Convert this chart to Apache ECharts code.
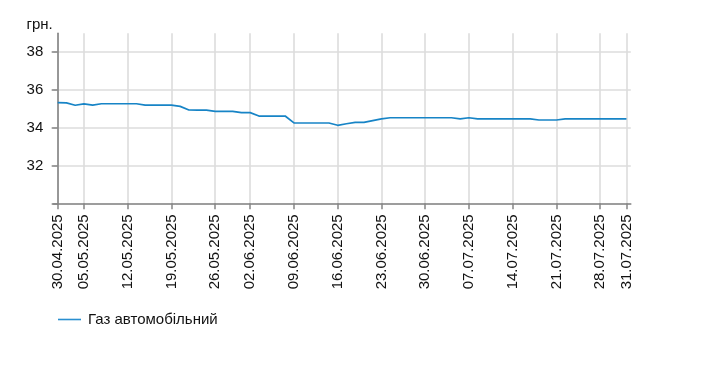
<!DOCTYPE html>
<html>
<head>
<meta charset="utf-8">
<script src="https://cdn.jsdelivr.net/npm/echarts@6/dist/echarts.min.js"></script>
<style>html,body{margin:0;padding:0;background:#fff}#c{width:709px;height:369px}</style>
</head>
<body>
<div id="c"></div>
<script>
const dates = [
  '30.04.2025','01.05.2025','02.05.2025',
  '05.05.2025','06.05.2025','07.05.2025','08.05.2025','09.05.2025',
  '12.05.2025','13.05.2025','14.05.2025','15.05.2025','16.05.2025',
  '19.05.2025','20.05.2025','21.05.2025','22.05.2025','23.05.2025',
  '26.05.2025','27.05.2025','28.05.2025','30.05.2025',
  '02.06.2025','03.06.2025','04.06.2025','05.06.2025','06.06.2025',
  '09.06.2025','10.06.2025','11.06.2025','12.06.2025','13.06.2025',
  '16.06.2025','17.06.2025','18.06.2025','19.06.2025','20.06.2025',
  '23.06.2025','24.06.2025','25.06.2025','26.06.2025','27.06.2025',
  '30.06.2025','01.07.2025','02.07.2025','03.07.2025','04.07.2025',
  '07.07.2025','08.07.2025','09.07.2025','10.07.2025','11.07.2025',
  '14.07.2025','15.07.2025','16.07.2025','17.07.2025','18.07.2025',
  '21.07.2025','22.07.2025','23.07.2025','24.07.2025','25.07.2025',
  '28.07.2025','29.07.2025','30.07.2025','31.07.2025'
];
const gasPrices = [
  35.33,35.32,35.19,
  35.26,35.20,35.27,35.27,35.27,
  35.27,35.27,35.20,35.20,35.20,
  35.20,35.13,34.94,34.93,34.93,
  34.87,34.87,34.87,34.80,
  34.80,34.62,34.62,34.62,34.62,
  34.26,34.25,34.25,34.25,34.25,
  34.13,34.21,34.28,34.28,34.38,
  34.47,34.53,34.53,34.53,34.53,
  34.53,34.53,34.53,34.53,34.47,
  34.53,34.47,34.47,34.47,34.47,
  34.47,34.47,34.47,34.41,34.41,
  34.41,34.47,34.47,34.47,34.47,
  34.47,34.47,34.47,34.47
];
const tickDates = ['30.04.2025','05.05.2025','12.05.2025','19.05.2025','26.05.2025','02.06.2025',
  '09.06.2025','16.06.2025','23.06.2025','30.06.2025','07.07.2025','14.07.2025','21.07.2025','28.07.2025','31.07.2025'];
const yTicks = [30, 32, 34, 36, 38];
const yLabels = [32, 34, 36, 38];
const seriesName = 'Газ автомобільний';
const unitName = 'грн.';

const tickIdx = tickDates.map(d => dates.indexOf(d));
const font = 'Liberation Sans, Arial, sans-serif';
const chart = echarts.init(document.getElementById('c'), null, {renderer: 'canvas'});
chart.setOption({
  animation: false,
  backgroundColor: '#fff',
  grid: {left: 53.3, right: 78.2, top: 33.3, bottom: 165.7, containLabel: false},
  legend: {
    left: 58, top: 312, padding: 0, itemWidth: 23, itemHeight: 14,
    textStyle: {fontFamily: font, fontSize: 15, color: '#111', padding: [0, 0, 0, 2]},
    data: [{name: seriesName, icon: 'path://M0,6.2 L23,6.2 L23,7.8 L0,7.8 Z', itemStyle: {color: '#2a8fd0'}}]
  },
  xAxis: {
    type: 'value', min: -0.5, max: dates.length - 0.5,
    axisLine: {show: true, onZero: false, lineStyle: {color: '#858585', width: 1.6}},
    axisTick: {show: true, length: 6, customValues: tickIdx, lineStyle: {color: '#858585', width: 1.5}},
    axisLabel: {
      customValues: tickIdx, rotate: 90, margin: 11,
      fontFamily: font, fontSize: 15, color: '#111',
      formatter: v => dates[Math.round(v)] || ''
    },
    splitLine: {show: true, lineStyle: {color: '#dcdcdc', width: 1.6}}
  },
  yAxis: {
    type: 'value', min: 30, max: 39,
    name: unitName, nameLocation: 'end', nameGap: 1,
    nameTextStyle: {fontFamily: font, fontSize: 15, color: '#111', align: 'right', padding: [0, 5, 0, 0]},
    axisLine: {show: true, lineStyle: {color: '#858585', width: 1.6}},
    axisTick: {show: true, length: 6, customValues: yTicks, lineStyle: {color: '#858585', width: 1.5}},
    axisLabel: {customValues: yLabels, margin: 10, fontFamily: font, fontSize: 15, color: '#111'},
    splitLine: {show: true, lineStyle: {color: '#dcdcdc', width: 1.6}}
  },
  series: [{
    name: seriesName, type: 'line', symbol: 'none',
    lineStyle: {color: '#1784c6', width: 1.7},
    itemStyle: {color: '#1784c6'},
    data: gasPrices.map((v, i) => [i, v])
  }]
});
</script>
</body>
</html>
